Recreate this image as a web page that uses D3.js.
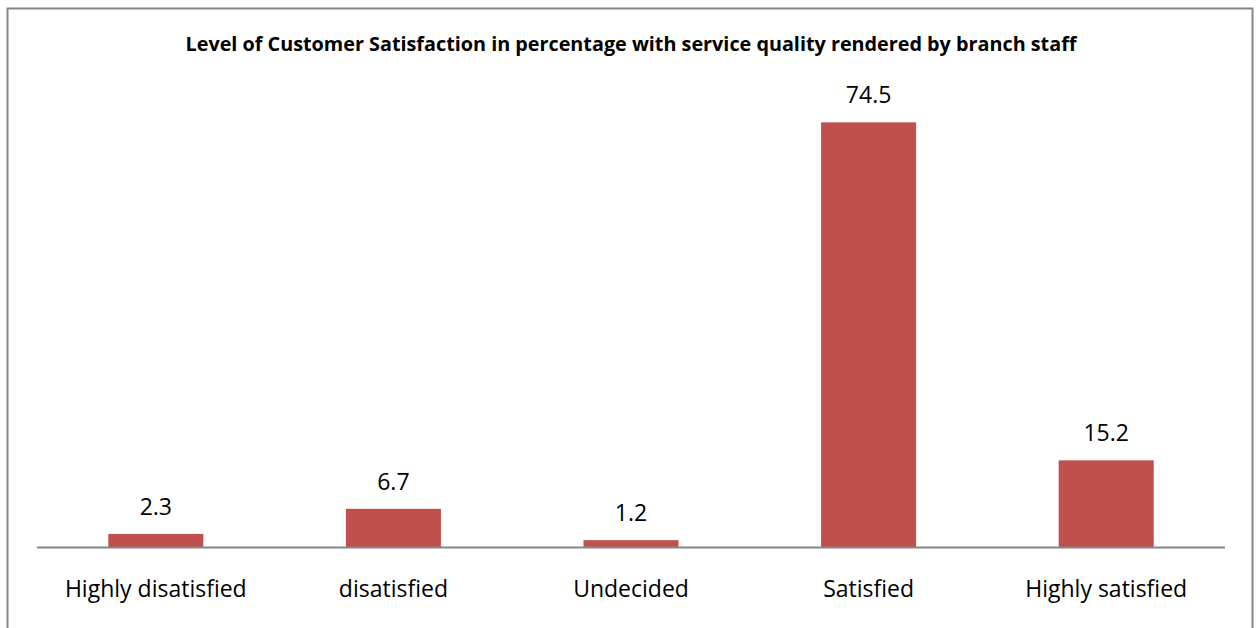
<!DOCTYPE html>
<meta charset="utf-8">
<script src="https://cdn.jsdelivr.net/npm/d3@7"></script>
<style>
    body { margin: 0; background: #fff; }
    text { font-family: "Open Sans", Lato, sans-serif; fill: #000; }
</style>
<body>
<script>

    var categories = ["Highly disatisfied", "disatisfied", "Undecided", "Satisfied", "Highly satisfied"]
    var values = [2.3, 6.7, 1.2, 74.5, 15.2]
    var titleText = "Level of Customer Satisfaction in percentage with service quality rendered by branch staff"

    var W = 1257, H = 628
    var plot = {left: 37, right: 1225, top: 91, bottom: 547}

    var svg = d3.select("body").append("svg").attr("width", W).attr("height", H)

    // outer border
    svg.append("rect").attr("x", 7.5).attr("y", 8.5).attr("width", 1245).attr("height", 640)
        .style("fill", "none").style("stroke", "#868686").style("stroke-width", 2)

    svg.append("text").attr("x", 631).attr("y", 51).text(titleText)
        .style("text-anchor", "middle").style("font-size", "19.8px").style("font-weight", "bold")

    var x = d3.scaleBand().domain(categories).range([plot.left, plot.right]).paddingInner(0.6).paddingOuter(0.3)
    var y = d3.scaleLinear().domain([0, 80]).range([plot.bottom, plot.top])

    svg.selectAll(".bar").data(values).enter().append("rect").attr("class", "bar")
        .attr("x", (d, i) => x(categories[i]))
        .attr("y", (d) => y(d))
        .attr("width", x.bandwidth())
        .attr("height", (d) => y(0) - y(d))
        .style("fill", "#C0504D")

    svg.selectAll(".val").data(values).enter().append("text").attr("class", "val")
        .attr("x", (d, i) => x(categories[i]) + x.bandwidth() / 2)
        .attr("y", (d) => y(d) - 19)
        .text((d) => d.toFixed(1))
        .style("text-anchor", "middle").style("font-size", "23px")

    var xAxis = d3.axisBottom(x).tickSize(0)
    var gx = svg.append("g").attr("transform", "translate(0," + plot.bottom + ")").call(xAxis)
    gx.select(".domain").attr("d", "M" + plot.left + ",0.5H" + plot.right).style("stroke", "#868686").style("stroke-width", 2)
    gx.selectAll("text").attr("y", 50).attr("dy", 0)
        .style("font-size", "23px").style("font-family", "'Open Sans', Lato, sans-serif").attr("fill", "#000")

</script>
</body>
